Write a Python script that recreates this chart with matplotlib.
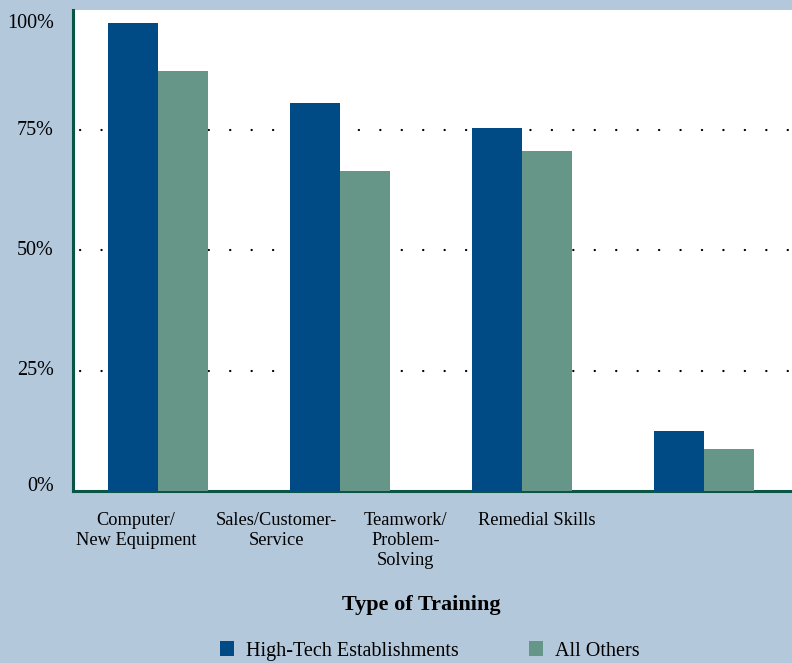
import numpy as np
import matplotlib.pyplot as plt

categories = ["Computer/\nNew Equipment", "Sales/Customer-\nService",
              "Teamwork/\nProblem-\nSolving", "Remedial Skills"]
high_tech = [97.3, 80.7, 75.5, 12.5]
all_others = [87.3, 66.5, 70.7, 8.7]
series_names = ["High-Tech Establishments", "All Others"]
y_ticks = [0, 25, 50, 75, 100]
y_labels = ["0%", "25%", "50%", "75%", "100%"]

bg = "#b4c8dc"
blue = "#004a86"
green = "#669688"
spine = "#0b5545"

plt.rcParams["font.family"] = ["Liberation Serif", "DejaVu Serif"]

fig = plt.figure(figsize=(7.92, 6.63), dpi=100, facecolor=bg)
ax = fig.add_axes([73 / 792, 172 / 663, 719 / 792, 481 / 663])

x = np.arange(len(categories))
w = 0.275
ax.bar(x - w / 2, high_tech, w, color=blue, zorder=3, label=series_names[0])
ax.bar(x + w / 2, all_others, w, color=green, zorder=3, label=series_names[1])

ax.set_xlim(-0.467, 3.484)
ax.set_ylim(0, 100)

# dotted grid
for v in y_ticks[1:-1]:
    ax.axhline(v, color="black", lw=1.6, ls=(0, (0.1, 9.55)),
               dash_capstyle="round", zorder=1, xmin=0.01)

# y labels: end ones kept inside the axis height like the original
ax.set_yticks([])
for v, lab in zip(y_ticks, y_labels):
    va, dy = "center", 0
    if v == y_ticks[0]:
        va = "baseline"
    elif v == y_ticks[-1]:
        va, dy = "top", -4
    ax.annotate(lab, xy=(0, v), xycoords=("axes fraction", "data"),
                xytext=(-19, dy), textcoords="offset pixels",
                ha="right", va=va, fontsize=14.5)

# category labels sit left of the bar groups
label_pos = [-0.12, 0.65, 1.36, 2.08]
ax.set_xticks(label_pos)
ax.set_xticklabels(categories, fontsize=13.2, linespacing=1.22, va="top")
ax.tick_params(axis="x", length=0, pad=15)

for s in ["top", "right"]:
    ax.spines[s].set_visible(False)
for s in ["left", "bottom"]:
    ax.spines[s].set_color(spine)
    ax.spines[s].set_linewidth(2.2)

fig.text(421 / 792, 1 - 605 / 663, "Type of Training", fontsize=16,
         fontweight="bold", ha="center", va="center")

fig.legend(loc="center", bbox_to_anchor=(430 / 792, 1 - 651 / 663), ncol=2,
           frameon=False, fontsize=14.5, handlelength=0.7, handleheight=0.7,
           handletextpad=0.6, columnspacing=3.5)

fig.savefig("out.png", dpi=100, facecolor=bg)
